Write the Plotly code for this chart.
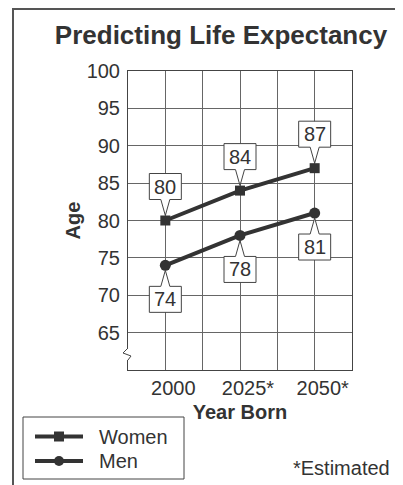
import plotly.graph_objects as go

# ---- data ----
years = [2000, 2025, 2050]
year_labels = ["2000", "2025*", "2050*"]
women = [80, 84, 87]
men = [74, 78, 81]
y_ticks = [65, 70, 75, 80, 85, 90, 95, 100]
series_names = ["Women", "Men"]
series_symbols = ["square", "circle"]

FONT = "Liberation Sans, Arial, Helvetica, sans-serif"
INK = "#333333"
GRID = "#666666"
W, H = 403, 485
OFF = 8  # page body margin of the browser
# plot area in reference-pixel coordinates
PL, PR, PT, PB = 128, 352, 71, 370
ML, MT = PL - OFF, PT - OFF
MR = W - ML - (PR - PL)
MB = H - MT - (PB - PT)

fig = go.Figure()
for name, sym, vals, msize in [(series_names[0], "square", women, 10), (series_names[1], "circle", men, 11)]:
    fig.add_trace(go.Scatter(
        x=years, y=vals, name=name, mode="lines+markers",
        line=dict(color=INK, width=4),
        marker=dict(symbol=sym, size=msize, color=INK),
        showlegend=False,
    ))

shapes = []
annotations = []


def callout(xv, yv, above):
    s = 1 if above else -1
    tip, base, top, hw, bw = 5, 21, 47, 16, 4.5
    pts = [(-hw, base), (-bw, base), (0, tip), (bw, base), (hw, base), (hw, top), (-hw, top)]
    path = "M" + " L".join(f"{px},{s*py}" for px, py in pts) + " Z"
    shapes.append(dict(type="path", xref="x", yref="y", xsizemode="pixel", ysizemode="pixel",
                       xanchor=xv, yanchor=yv, path=path, fillcolor="white",
                       line=dict(color="#444444", width=1), layer="above"))
    annotations.append(dict(x=xv, y=yv, xref="x", yref="y", text=str(yv), showarrow=False,
                            yshift=s * 34, font=dict(family=FONT, size=20, color=INK)))


for xv, yv in zip(years, women):
    callout(xv, yv, True)
for xv, yv in zip(years, men):
    callout(xv, yv, False)


def px2paper(px, py):
    return (px - PL) / (PR - PL), (PB - py) / (PB - PT)


# axis break (zigzag) on the y axis, in paper coords so it is not clipped
_, zy = px2paper(PL, 354)
shapes.append(dict(type="path", xref="paper", yref="paper", xsizemode="pixel", ysizemode="pixel",
                   xanchor=0, yanchor=zy, path="M-2,6 L2,6 L2,-6 L-2,-6 Z",
                   fillcolor="white", line=dict(width=0), layer="above"))
shapes.append(dict(type="path", xref="paper", yref="paper", xsizemode="pixel", ysizemode="pixel",
                   xanchor=0, yanchor=zy, path="M0,6 L-5,1 L3,-2 L0,-6",
                   line=dict(color="#444444", width=1), layer="above"))

# outer frame (left and top)
fx0, fy0 = px2paper(13, 500)
fx1, fy1 = px2paper(13, 9)
fx2, _ = px2paper(420, 9)
shapes.append(dict(type="path", xref="paper", yref="paper",
                   path=f"M{fx0},{fy0} L{fx1},{fy1} L{fx2},{fy1}",
                   line=dict(color="#555555", width=2)))

# legend (drawn by hand)
bx0, by0 = px2paper(23, 479)
bx1, by1 = px2paper(184, 417)
shapes.append(dict(type="rect", xref="paper", yref="paper", x0=bx0, y0=by0, x1=bx1, y1=by1,
                   line=dict(color="#444444", width=1), fillcolor="white"))
for i, (name, sym) in enumerate(zip(series_names, series_symbols)):
    cy = 436.5 + i * 24.5
    lx0, ly = px2paper(35, cy)
    lx1, _ = px2paper(83, cy)
    shapes.append(dict(type="line", xref="paper", yref="paper", x0=lx0, x1=lx1, y0=ly, y1=ly,
                       line=dict(color=INK, width=4)))
    mx0, my0 = px2paper(54, cy + 5)
    mx1, my1 = px2paper(64, cy - 5)
    shapes.append(dict(type="rect" if sym == "square" else "circle", xref="paper", yref="paper",
                       x0=mx0, x1=mx1, y0=my0, y1=my1, fillcolor=INK, line=dict(width=0)))
    tx, ty = px2paper(97, cy)
    annotations.append(dict(x=tx, y=ty, xref="paper", yref="paper", text=name, showarrow=False,
                            xanchor="left", yanchor="middle",
                            font=dict(family=FONT, size=20, color=INK)))

ex, ey = px2paper(392, 468)
annotations.append(dict(x=ex, y=ey, xref="paper", yref="paper", text="*Estimated",
                        showarrow=False, xanchor="right", yanchor="middle",
                        font=dict(family=FONT, size=20, color=INK)))

fig.update_layout(
    width=W, height=H,
    margin=dict(l=ML, r=MR, t=MT, b=MB, autoexpand=False),
    paper_bgcolor="white", plot_bgcolor="white",
    font=dict(family=FONT, size=20, color=INK),
    title=dict(text="Predicting Life Expectancy", xref="container", yref="container",
               x=(221 - OFF) / W, y=1 - (35 - OFF) / H, xanchor="center", yanchor="middle",
               font=dict(family=FONT, size=26, color=INK, weight="bold")),
    showlegend=False,
    shapes=shapes, annotations=annotations,
)
fig.update_xaxes(
    range=[1987.5, 2062.5], tickvals=years, ticktext=year_labels,
    showgrid=True, gridcolor=GRID, gridwidth=1,
    minor=dict(tick0=1987.5, dtick=12.5, showgrid=True, gridcolor=GRID, gridwidth=1),
    showline=True, mirror=True, linecolor="#444444", linewidth=1,
    ticks="", ticklabelshift=8, ticklabelstandoff=0, zeroline=False, automargin=False,
    title=dict(text="Year Born", standoff=6, font=dict(family=FONT, size=20, color=INK, weight="bold")),
)
fig.update_yaxes(
    range=[60, 100], tickvals=y_ticks,
    showgrid=True, gridcolor=GRID, gridwidth=1,
    showline=True, mirror=True, linecolor="#444444", linewidth=1,
    ticks="", ticklabelstandoff=3, zeroline=False, automargin=False,
    title=dict(text="Age", standoff=0, font=dict(family=FONT, size=20, color=INK, weight="bold")),
)

fig.write_html("out.html")
